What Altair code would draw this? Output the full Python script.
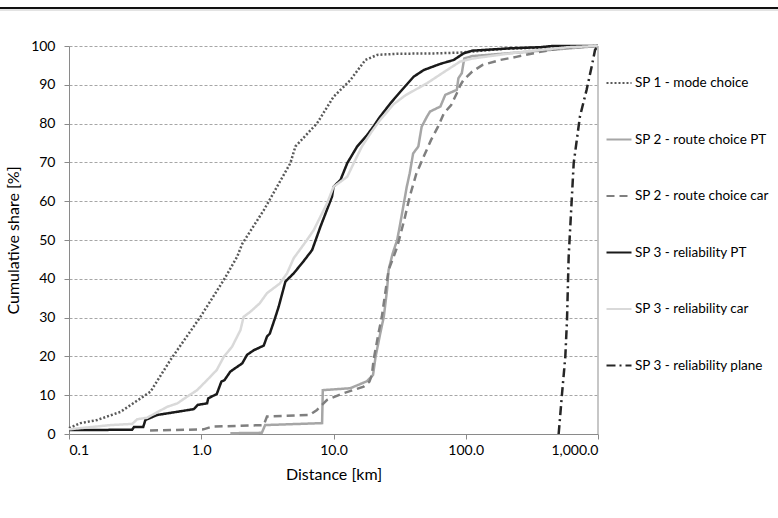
import altair as alt
import pandas as pd

# Cumulative share of respondents by trip distance, per survey part
names = [
    "SP 1 - mode choice",
    "SP 2 - route choice PT",
    "SP 2 - route choice car",
    "SP 3 - reliability PT",
    "SP 3 - reliability car",
    "SP 3 - reliability plane",
]

sp1_km = [0.1, 0.122, 0.163, 0.245, 0.413, 0.585, 0.986, 1.48, 1.87, 2.04, 2.97, 4.72, 5.15,
          7.52, 10.0, 13.4, 17.4, 21.4, 30, 60, 91, 200, 1000]
sp1_pct = [1.5, 2.8, 3.6, 5.7, 10.9, 19.1, 30.2, 39.7, 45.7, 49.0, 57.7, 69.8, 74.1,
           80.1, 86.9, 91.2, 96.4, 97.7, 98.0, 98.1, 98.3, 99.3, 100]

sp2_pt_km = [1.66, 2.87, 3.04, 8.2, 8.3, 13.4, 17.9, 19.9, 20.8, 22.6, 24.0, 25.4, 26.1, 28.0,
             30.3, 32.0, 35.8, 37.7, 40.0, 43.8, 46.4, 50.9, 53.7, 64.3, 70.0, 85.6, 88.0,
             93.4, 96.0, 97.5, 112, 290, 1000]
sp2_pt_pct = [0.2, 0.3, 2.3, 2.8, 11.3, 11.8, 13.6, 15.2, 19.9, 26.0, 30.2, 37.1, 42.3, 46.5,
              50.0, 54.3, 63.7, 67.2, 72.3, 74.1, 79.2, 81.8, 83.1, 84.4, 87.4, 88.7, 91.7,
              93.0, 95.5, 96.8, 97.4, 98.5, 100]

sp2_car_km = [0.41, 1.04, 1.21, 2.97, 3.14, 6.6, 7.5, 8.95, 11.9, 16.9, 18.7, 19.5, 20.1, 21.9,
              23.2, 24.0, 26.1, 28.5, 30.3, 34.3, 37.7, 42.4, 48.1, 54.7, 61.7, 68.2, 77.6,
              85.6, 91, 96, 112, 134, 182, 241, 367, 520, 1000]
sp2_car_pct = [0.9, 1.2, 1.9, 2.3, 4.5, 4.9, 6.2, 8.8, 10.5, 12.2, 13.5, 15.2, 19.1, 26.0,
               30.2, 33.7, 42.3, 45.7, 48.2, 55.2, 61.2, 67.2, 71.5, 75.8, 79.2, 82.6, 84.8,
               87.8, 89.9, 91.2, 93.4, 95.1, 96.4, 97.2, 98.5, 99.4, 100]

sp3_pt_km = [0.1, 0.30, 0.31, 0.364, 0.378, 0.464, 0.877, 0.94, 1.107, 1.13, 1.31, 1.42, 1.5,
             1.66, 2.04, 2.22, 2.5, 2.77, 2.97, 3.14, 3.3, 3.64, 3.85, 4.33, 5.0, 5.96, 6.89,
             7.96, 9.75, 10.0, 11.3, 12.7, 15.1, 17.9, 20.1, 22.3, 26.9, 32.0, 40.4, 48.1,
             64.3, 81.1, 96.4, 112, 217, 367, 450, 1000]
sp3_pt_pct = [1.0, 1.1, 1.8, 1.8, 3.6, 4.9, 6.4, 7.5, 7.9, 9.2, 10.3, 13.5, 13.9,
              16.1, 18.2, 20.4, 21.6, 22.3, 22.8, 25.1, 25.9, 30.2, 32.8, 39.3, 41.4, 44.6, 47.4,
              53.4, 61.2, 63.7, 65.5, 69.8, 74.1, 77.0, 79.3, 81.6, 85.2, 88.2, 92.1, 93.8,
              95.4, 96.4, 98.1, 98.8, 99.4, 99.7, 100, 100]

sp3_car_km = [0.1, 0.206, 0.30, 0.328, 0.39, 0.552, 0.66, 0.78, 0.93, 1.107, 1.31, 1.48, 1.71,
              1.98, 2.09, 2.35, 2.77, 3.14, 3.93, 4.45, 5.0, 6.3, 7.1, 8.95, 10.0, 12.7, 14.6,
              16.4, 19.5, 22.6, 28.5, 35.0, 50.9, 70.0, 90.8, 114, 217, 367, 600, 1000]
sp3_car_pct = [1.2, 2.3, 2.6, 3.8, 4.2, 7.0, 7.9, 9.6, 11.3, 13.9, 16.5, 19.9, 22.5,
               26.8, 30.2, 31.5, 33.7, 36.3, 38.8, 41.4, 45.3, 50.0, 52.6, 59.5, 63.7, 66.3, 70.6,
               74.1, 78.0, 81.0, 85.0, 87.3, 90.4, 93.5, 96.0, 96.8, 98.1, 99.0, 99.7, 100]

sp3_plane_km = [504, 535, 566, 583, 600, 655, 730, 820, 896, 950, 1000]
sp3_plane_pct = [0, 10.5, 19.9, 29.4, 45.7, 69.8, 81.8, 88.7, 94.7, 99.0, 100]

line_colors = ["#595959", "#a6a6a6", "#7f7f7f", "#1a1a1a", "#d9d9d9", "#262626"]
line_dashes = [[2, 2], [1, 0], [8, 5], [1, 0], [1, 0], [9, 4, 2, 4]]

x_ticks = [0.1, 1, 10, 100, 1000]
y_ticks = list(range(0, 101, 10))

series = [
    (sp1_km, sp1_pct), (sp2_pt_km, sp2_pt_pct), (sp2_car_km, sp2_car_pct),
    (sp3_pt_km, sp3_pt_pct), (sp3_car_km, sp3_car_pct), (sp3_plane_km, sp3_plane_pct),
]
rows = []
for name, (xs, ys) in zip(names, series):
    for i, (xv, yv) in enumerate(zip(xs, ys)):
        rows.append({"series": name, "km": xv, "pct": yv, "idx": i})
df = pd.DataFrame(rows)

font = "Lato"

x_scale = alt.Scale(type="log", domain=[0.1, 1000], nice=False)
y_scale = alt.Scale(domain=[0, 100], nice=False)
x_axis = alt.Axis(values=x_ticks, format=",.1f", title="Distance [km]", grid=False,
                  tickSize=5, labelPadding=4, titlePadding=9)
y_axis = alt.Axis(values=y_ticks, title="Cumulative share [%]", grid=True,
                  tickSize=5, labelPadding=9, titlePadding=9)

lines = alt.Chart(df).mark_line(strokeWidth=2.5, interpolate="linear").encode(
    x=alt.X("km:Q", scale=x_scale, axis=x_axis),
    y=alt.Y("pct:Q", scale=y_scale, axis=y_axis),
    color=alt.Color("series:N", scale=alt.Scale(domain=names, range=line_colors),
                    title=None, sort=names),
    strokeDash=alt.StrokeDash("series:N", scale=alt.Scale(domain=names, range=line_dashes),
                              title=None, sort=names),
    order=alt.Order("idx:Q"),
)

# right-hand frame at 1,000 km
frame = alt.Chart(pd.DataFrame({"km": [1000], "lo": [0], "hi": [100]})).mark_rule(
    color="#b4b4b4", strokeWidth=1.5
).encode(
    x=alt.X("km:Q", scale=x_scale, axis=x_axis),
    y=alt.Y("lo:Q", scale=y_scale, axis=y_axis),
    y2="hi:Q",
)

# page rule above the figure
top_rule = alt.Chart(pd.DataFrame({"a": [0]})).mark_rule(color="#111111", strokeWidth=2).encode(
    x=alt.value(-69), x2=alt.value(709), y=alt.value(-38)
)
top_rule2 = alt.Chart(pd.DataFrame({"a": [0]})).mark_rule(color="#c8c8c8", strokeWidth=1).encode(
    x=alt.value(-69), x2=alt.value(709), y=alt.value(-36)
)

chart = alt.layer(lines, frame, top_rule, top_rule2).properties(
    width=529, height=388,
    autosize=alt.AutoSizeParams(type="none"),
    padding={"left": 69, "top": 46, "right": 180, "bottom": 84},
).configure_view(stroke=None).configure_axis(
    labelFont=font, titleFont=font, labelFontSize=14, titleFontSize=16,
    labelColor="#000000", titleColor="#000000", titleFontWeight="normal",
    domainColor="#8a8a8a", tickColor="#8a8a8a", gridColor="#a6a6a6", gridDash=[3, 2],
).configure_legend(
    orient="none", legendX=536, legendY=23, padding=0,
    symbolType="stroke", symbolSize=625, symbolStrokeWidth=2.2,
    labelFont=font, labelFontSize=13.5, labelColor="#000000", labelOffset=2,
    rowPadding=35.5, labelLimit=300,
)

chart.save("out.html", embed_options={"renderer": "svg", "actions": False})
